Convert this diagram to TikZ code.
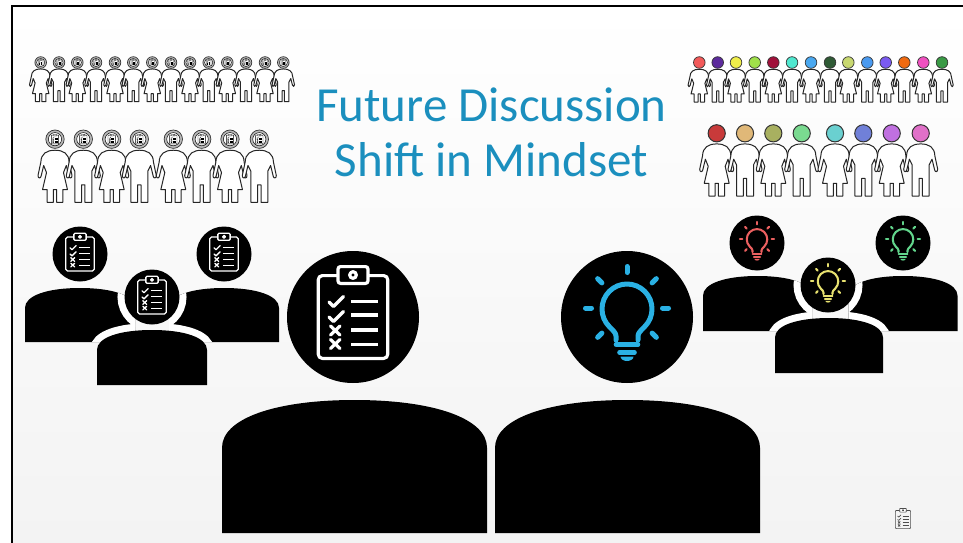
\documentclass[tikz,border=0pt]{standalone}
\usepackage{fontspec}
\newfontfamily\titlefont{Carlito}

% crowd head colours
\definecolor{rca}{RGB}{242,90,90}
\definecolor{rcb}{RGB}{92,42,156}
\definecolor{rcc}{RGB}{240,238,74}
\definecolor{rcd}{RGB}{160,224,74}
\definecolor{rce}{RGB}{160,16,58}
\definecolor{rcf}{RGB}{80,232,208}
\definecolor{rcg}{RGB}{74,168,240}
\definecolor{rch}{RGB}{47,90,53}
\definecolor{rci}{RGB}{200,216,112}
\definecolor{rcj}{RGB}{74,154,240}
\definecolor{rck}{RGB}{122,90,240}
\definecolor{rcl}{RGB}{240,106,16}
\definecolor{rcm}{RGB}{240,80,192}
\definecolor{rcn}{RGB}{58,154,69}
\definecolor{sda}{RGB}{200,58,58}
\definecolor{sdb}{RGB}{224,184,120}
\definecolor{sdc}{RGB}{168,176,96}
\definecolor{sdd}{RGB}{122,218,144}
\definecolor{sde}{RGB}{106,208,208}
\definecolor{sdf}{RGB}{112,128,216}
\definecolor{sdg}{RGB}{192,112,224}
\definecolor{sdh}{RGB}{224,112,200}
\definecolor{titleblue}{RGB}{27,143,190}
\definecolor{bulbblue}{RGB}{42,177,228}
\definecolor{bulbred}{RGB}{236,96,96}
\definecolor{bulbyellow}{RGB}{232,226,112}
\definecolor{bulbgreen}{RGB}{98,214,140}
\definecolor{bggray}{RGB}{243,243,243}

% clipboard glyph: x, y, scale, stroke colour, background colour
\newcommand\clipboardicon[5]{%
  \pgfmathsetmacro\cbw{3.2*#3}%
  \pgfmathsetmacro\cbr{4*#3}%
  \pgfmathsetmacro\cbt{2.5*#3}%
  \begin{scope}[shift={(#1,#2)},yscale=-1,scale=#3,line width=\cbw pt,color=#4,line join=round]
    \draw[rounded corners=\cbr pt] (-34.7,-41.4) rectangle (34.7,41.4);
    \draw[fill=#5,rounded corners=\cbt pt] (-15,33.6) rectangle (15,50.4);
    \draw (0,42) circle[radius=3.3];
    \draw[line cap=round] (-24,15) -- (-19.5,10.5) -- (-9.5,20.5);
    \draw[line cap=round] (-24,0) -- (-19.5,-4.5) -- (-9.5,5.5);
    \draw[line cap=round] (-22.5,-9) -- (-13,-18) (-22.5,-18) -- (-13,-9);
    \draw[line cap=round] (-22.5,-22.5) -- (-13,-31.5) (-22.5,-31.5) -- (-13,-22.5);
    \foreach \yy in {15.3,2,-13,-27.3} \draw (-2,\yy) -- (25,\yy);
  \end{scope}}

% light-bulb glyph: x, y, scale, colour
\newcommand\bulbicon[4]{%
  \pgfmathsetmacro\bbw{5*#3}%
  \pgfmathsetmacro\bbb{4.6*#3}%
  \begin{scope}[shift={(#1,#2)},yscale=-1,scale=#3,line width=\bbw pt,color=#4,line cap=round,line join=round]
    \begin{scope}[shift={(0,10)}]
      \foreach \a in {0,45,90,135,180,225,315} \draw (\a:35.5) -- (\a:41.5);
    \end{scope}
    \draw (-11,-22) -- (-11,-18) .. controls (-11,-15) and (-14.15,-12.2) .. (-17.68,-8.68)
      arc[start angle=225,end angle=-45,radius=25]
      .. controls (14.15,-12.2) and (11,-15) .. (11,-18) -- (11,-22);
    \draw[line width=\bbb pt] (-11,-26.5) -- (11,-26.5);
    \draw[line width=\bbb pt] (-7.5,-34.5) -- (7.5,-34.5);
    \fill (-6.5,-38.5) -- (6.5,-38.5) arc[start angle=0,end angle=-180,x radius=6.5,y radius=4.5] -- cycle;
  \end{scope}}

% outline of a silhouette torso: centre x, top y, width, bottom y
\newcommand\torsopath[4]{%
  ({#1-#3/2},#4) -- ({#1-#3/2},{#2+0.18*#3})
  .. controls ({#1-#3/2},{#2+0.07*#3}) and ({#1-0.3*#3},#2) .. (#1,#2)
  .. controls ({#1+0.3*#3},#2) and ({#1+#3/2},{#2+0.07*#3}) .. ({#1+#3/2},{#2+0.18*#3})
  -- ({#1+#3/2},#4) -- cycle}

\tikzset{
  figline/.style={draw=black!85,fill=white,line width=1pt,line join=round},
  dressfig/.pic={
    \path[figline] (0,1.84) .. controls (0.3,1.84) and (0.49,1.72) .. (0.5,1.42)
      -- (0.6,0.95) .. controls (0.61,0.84) and (0.5,0.83) .. (0.49,0.93)
      -- (0.4,1.3) -- (0.3,1.05) -- (0.44,0.45) -- (0.28,0.45) -- (0.28,0) -- (0.06,0)
      -- (0.06,0.45) -- (-0.06,0.45) -- (-0.06,0) -- (-0.28,0) -- (-0.28,0.45) -- (-0.44,0.45)
      -- (-0.3,1.05) -- (-0.4,1.3) -- (-0.49,0.93) .. controls (-0.5,0.83) and (-0.61,0.84) .. (-0.6,0.95)
      -- (-0.5,1.42) .. controls (-0.49,1.72) and (-0.3,1.84) .. (0,1.84) -- cycle;},
  pantsfig/.pic={
    \path[figline] (0,1.84) .. controls (0.3,1.84) and (0.49,1.72) .. (0.5,1.42)
      -- (0.6,0.95) .. controls (0.61,0.84) and (0.5,0.83) .. (0.49,0.93)
      -- (0.4,1.3) -- (0.3,1.1) -- (0.3,0) -- (0.06,0) -- (0.06,0.62) -- (-0.06,0.62)
      -- (-0.06,0) -- (-0.3,0) -- (-0.3,1.1) -- (-0.4,1.3)
      -- (-0.49,0.93) .. controls (-0.5,0.83) and (-0.61,0.84) .. (-0.6,0.95)
      -- (-0.5,1.42) .. controls (-0.49,1.72) and (-0.3,1.84) .. (0,1.84) -- cycle;},
  blackhead/.style={circle,fill=black,inner sep=0pt,outer sep=0pt},
  halo/.style={draw=white,line width=14pt},
  titletext/.style={font=\titlefont\fontsize{49}{58}\selectfont,text=titleblue,inner sep=0pt,anchor=base},
  crowdhead/.style={draw=black!80,line width=0.7pt}
}

\begin{document}
\begin{tikzpicture}[x=1pt,y={(0,-1pt)}]
  \useasboundingbox (0,0) rectangle (963,543);
  % page and frame
  \fill[white] (0,0) rectangle (963,543);
  \shade[top color=white,bottom color=bggray] (12,6) rectangle (963,543);
  \draw[line width=2pt] (12,543) -- (12,6) -- (963,6);

  % title
  \node[titletext] (title1) at (491.5,121) {Future Discussion};
  \node[titletext] (title2) at (491.5,176.7) {Shift in Mindset};

  % crowd, upper left
  \foreach \hx [count=\i] in {40.7,59,77.3,96,115,133.3,152.3,171,190,208.7,227.3,246,265,283.3}{
    \ifodd\i \pic[xscale=18.7,yscale=-17.8] at (\hx,101.7) {dressfig};
    \else \pic[xscale=18.7,yscale=-17.8] at (\hx,101.7) {pantsfig}; \fi
    \draw[crowdhead,fill=gray!55] (\hx,62.5) circle[radius=5.8];
    \draw[black,fill=white,line width=0.4pt] (\hx,62.5) circle[radius=4.1];
    \clipboardicon{\hx}{62.7}{0.065}{black}{white}
  }
  \foreach \hx [count=\i] in {55,83.3,111.7,139.3,173.3,201.7,230,259.3}{
    \ifodd\i \pic[xscale=28.3,yscale=-28.3] at (\hx,202.3) {dressfig};
    \else \pic[xscale=28.3,yscale=-28.3] at (\hx,202.3) {pantsfig}; \fi
    \draw[crowdhead,fill=gray!55] (\hx,139.2) circle[radius=9.2];
    \draw[black,fill=white,line width=0.5pt] (\hx,139.2) circle[radius=6.6];
    \clipboardicon{\hx}{139.5}{0.105}{black}{white}
  }

  % crowd, upper right
  \foreach \hx/\col [count=\i] in {699.3/rca,717.7/rcb,736/rcc,754.7/rcd,773.3/rce,792/rcf,811/rcg,
      830/rch,848.3/rci,867.3/rcj,885.7/rck,904.3/rcl,923.3/rcm,942/rcn}{
    \ifodd\i \pic[xscale=18.7,yscale=-17.8] at (\hx,102) {dressfig};
    \else \pic[xscale=18.7,yscale=-17.8] at (\hx,102) {pantsfig}; \fi
    \draw[crowdhead,fill=\col] (\hx,62.5) circle[radius=5.8];
  }
  \foreach \hx/\col [count=\i] in {716.7/sda,745/sdb,773.3/sdc,801.7/sdd,835/sde,863.3/sdf,891.7/sdg,920.7/sdh}{
    \ifodd\i \pic[xscale=28.3,yscale=-28.3] at (\hx,196) {dressfig};
    \else \pic[xscale=28.3,yscale=-28.3] at (\hx,196) {pantsfig}; \fi
    \draw[crowdhead,line width=1pt,fill=\col] (\hx,133.3) circle[radius=8.6];
  }

  % small group with clipboards
  \fill \torsopath{80}{288}{110}{342};
  \node[blackhead,minimum size=55pt] (cbL) at (80,254) {};
  \clipboardicon{80}{254}{0.41}{white}{black}
  \fill \torsopath{224}{288}{110}{342};
  \node[blackhead,minimum size=55pt] (cbR) at (224,254) {};
  \clipboardicon{224}{254}{0.41}{white}{black}
  \begin{scope}
    \clip \torsopath{80}{288}{110}{342} \torsopath{224}{288}{110}{342};
    \path[halo] \torsopath{152}{330}{110}{385};
    \path[halo] (152,297) circle[radius=27.5];
  \end{scope}
  \fill \torsopath{152}{330}{110}{385};
  \node[blackhead,minimum size=55pt] (cbF) at (152,297) {};
  \clipboardicon{152}{297}{0.41}{white}{black}

  % small group with light bulbs
  \fill \torsopath{757.5}{276}{109}{331};
  \node[blackhead,minimum size=55pt] (lbL) at (757,243) {};
  \bulbicon{757}{243}{0.41}{bulbred}
  \fill \torsopath{903}{276}{109}{331};
  \node[blackhead,minimum size=55pt] (lbR) at (903,243) {};
  \bulbicon{903}{243}{0.41}{bulbgreen}
  \begin{scope}
    \clip \torsopath{757.5}{276}{109}{331} \torsopath{903}{276}{109}{331};
    \path[halo] \torsopath{829}{318}{108}{373};
    \path[halo] (828,285) circle[radius=27.5];
  \end{scope}
  \fill \torsopath{829}{318}{108}{373};
  \node[blackhead,minimum size=55pt] (lbF) at (828,285) {};
  \bulbicon{828}{285}{0.41}{bulbyellow}

  % the two large figures
  \node[blackhead,minimum size=132pt] (bigL) at (353,317) {};
  \clipboardicon{353}{317}{1}{white}{black}
  \fill \torsopath{354.5}{400}{265}{533};
  \node[blackhead,minimum size=132pt] (bigR) at (627,317) {};
  \bulbicon{627}{318}{1}{bulbblue}
  \fill \torsopath{627.5}{400}{265}{533};

  % small clipboard mark, lower right
  \clipboardicon{903}{519.5}{0.22}{black!70}{white}
\end{tikzpicture}
\end{document}
